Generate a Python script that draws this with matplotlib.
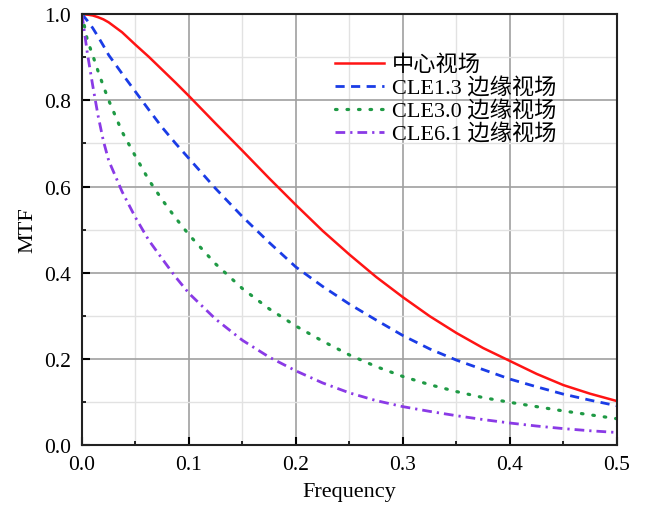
import matplotlib
matplotlib.use("Agg")
import matplotlib.pyplot as plt
from matplotlib.ticker import MultipleLocator, FormatStrFormatter

plt.rcParams['font.family'] = ['Liberation Serif', 'Noto Sans CJK SC']

freq = [0.0, 0.005, 0.01, 0.015, 0.02, 0.025, 0.0375, 0.05, 0.0625, 0.075, 0.0875, 0.1,
        0.125, 0.15, 0.175, 0.2, 0.225, 0.25, 0.275, 0.3, 0.325, 0.35, 0.375, 0.4,
        0.425, 0.45, 0.475, 0.5]
mtf_center = [1.0, 0.999, 0.997, 0.993, 0.988, 0.981, 0.958, 0.929, 0.901, 0.871, 0.841, 0.81,
              0.746, 0.683, 0.619, 0.557, 0.497, 0.442, 0.390, 0.343, 0.299, 0.260, 0.225, 0.195,
              0.165, 0.139, 0.119, 0.102]
mtf_cle13 = [1.0, 0.985, 0.968, 0.948, 0.927, 0.905, 0.862, 0.82, 0.778, 0.737, 0.70, 0.665,
             0.595, 0.53, 0.47, 0.413, 0.368, 0.327, 0.29, 0.254, 0.223, 0.197, 0.175, 0.153,
             0.135, 0.118, 0.104, 0.091]
mtf_cle30 = [1.0, 0.94, 0.905, 0.868, 0.833, 0.80, 0.727, 0.67, 0.615, 0.569, 0.527, 0.488,
             0.42, 0.363, 0.316, 0.276, 0.241, 0.209, 0.182, 0.159, 0.14, 0.124, 0.11, 0.099,
             0.089, 0.079, 0.07, 0.061]
mtf_cle61 = [1.0, 0.91, 0.835, 0.765, 0.706, 0.66, 0.588, 0.528, 0.475, 0.432, 0.39, 0.352,
             0.292, 0.243, 0.204, 0.172, 0.144, 0.121, 0.103, 0.089, 0.078, 0.068, 0.059, 0.051,
             0.044, 0.038, 0.033, 0.029]
labels = ['中心视场', 'CLE1.3 边缘视场', 'CLE3.0 边缘视场', 'CLE6.1 边缘视场']

fig = plt.figure(figsize=(6.48, 5.06), dpi=100)
ax = fig.add_axes([0.1265, 0.1186, 0.8255, 0.8514])

ax.plot(freq, mtf_center, color='#ff1414', lw=1.8, ls='-', label=labels[0])
ax.plot(freq, mtf_cle13, color='#1a3ce6', lw=2.0, ls=(0, (3.3, 2.3)), label=labels[1])
ax.plot(freq, mtf_cle30, color='#1f9a45', lw=2.3, ls=(0, (0.5, 3.1)), dash_capstyle='round', label=labels[2])
ax.plot(freq, mtf_cle61, color='#8a3ae6', lw=2.0, ls=(0, (3.5, 1.8, 0.8, 1.8)), label=labels[3])

ax.set_xlim(0, 0.5)
ax.set_ylim(0, 1.0)
ax.xaxis.set_major_locator(MultipleLocator(0.1))
ax.xaxis.set_minor_locator(MultipleLocator(0.05))
ax.yaxis.set_major_locator(MultipleLocator(0.2))
ax.yaxis.set_minor_locator(MultipleLocator(0.1))
ax.xaxis.set_major_formatter(FormatStrFormatter('%.1f'))
ax.yaxis.set_major_formatter(FormatStrFormatter('%.1f'))

ax.grid(which='major', color='#a0a0a0', lw=1.2)
ax.grid(which='minor', color='#e2e2e2', lw=1.0)
ax.set_axisbelow(True)

ax.tick_params(which='major', direction='in', length=6, width=1.5, labelsize=15.5, top=False, right=False)
ax.tick_params(axis='x', which='major', pad=7)
ax.tick_params(axis='y', which='major', pad=8)
ax.tick_params(which='minor', direction='in', length=3, width=1.2, top=False, right=False)
for s in ax.spines.values():
    s.set_linewidth(1.5)
    s.set_color('#222222')

ax.set_xlabel('Frequency', fontsize=16, labelpad=6)
ax.set_ylabel('MTF', fontsize=16, labelpad=5)

leg = ax.legend(loc='upper left', bbox_to_anchor=(0.473, 0.906), frameon=False, fontsize=16,
                handlelength=2.2, handletextpad=0.35, labelspacing=0.1,
                borderpad=0, borderaxespad=0)

fig.savefig('out.png', dpi=100)
